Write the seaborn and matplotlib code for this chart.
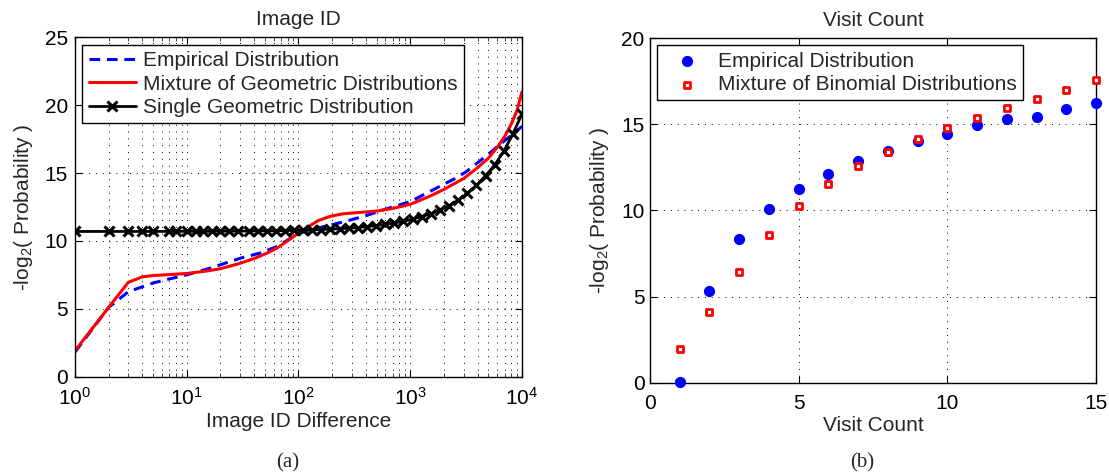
import matplotlib
matplotlib.use("Agg")
import matplotlib.pyplot as plt
import seaborn as sns
import numpy as np
import pandas as pd
from matplotlib.ticker import LogLocator, FixedLocator

# ---------------- data ----------------
# (a) Image ID difference
emp_x = [1, 2, 3, 4, 5, 7, 10, 16, 30, 45, 64, 100, 158, 251, 398, 631, 1000,
         1585, 2512, 3162, 3981, 5012, 6310, 7943, 10000]
emp_y = [1.8, 5.1, 6.25, 6.62, 6.9, 7.2, 7.5, 7.98, 8.72, 9.1, 9.58, 10.55, 11.0,
         11.4, 11.85, 12.4, 12.9, 13.75, 14.6, 15.1, 15.75, 16.4, 17.1, 17.75, 18.45]

mix_x = [1, 2, 3, 4, 5, 7, 10, 15, 20, 30, 40, 52, 65, 78, 100, 120, 150, 190,
         250, 350, 500, 700, 1000, 1500, 2000, 3000, 4000, 5000, 6000, 7000, 8000,
         9000, 10000]
mix_y = [1.9, 5.1, 6.95, 7.35, 7.45, 7.52, 7.6, 7.78, 7.95, 8.35, 8.7, 9.09, 9.5,
         9.95, 10.57, 11.0, 11.5, 11.8, 12.0, 12.1, 12.2, 12.4, 12.7, 13.3, 13.8,
         14.6, 15.4, 16.1, 16.9, 17.7, 18.6, 19.6, 21.0]

geo_x = [1, 2, 3, 4, 5, 7, 8, 10, 12, 14, 17, 20, 24, 29, 36, 43, 52, 63, 75, 91,
         110, 133, 160, 193, 233, 281, 339, 410, 494, 597, 720, 869, 1048, 1265,
         1526, 1842, 2223, 2683, 3237, 3907, 4715, 5690, 6866, 8286, 10000]
geo_y = [10.7, 10.7, 10.7, 10.7, 10.7, 10.71, 10.71, 10.71, 10.71, 10.71, 10.71,
         10.72, 10.72, 10.72, 10.73, 10.74, 10.74, 10.75, 10.76, 10.78, 10.79,
         10.81, 10.84, 10.87, 10.9, 10.94, 10.99, 11.05, 11.13, 11.22, 11.32,
         11.45, 11.6, 11.8, 12.0, 12.3, 12.6, 13.0, 13.5, 14.1, 14.8, 15.6, 16.6,
         17.9, 19.36]

# (b) Visit count
visits = [1, 2, 3, 4, 5, 6, 7, 8, 9, 10, 11, 12, 13, 14, 15]
emp_b = [0.05, 5.35, 8.35, 10.07, 11.23, 12.10, 12.87, 13.45, 14.03, 14.44, 14.94,
         15.31, 15.44, 15.87, 16.24]
mix_b = [1.96, 4.13, 6.45, 8.56, 10.24, 11.52, 12.56, 13.41, 14.17, 14.81, 15.39,
         15.95, 16.47, 17.01, 17.57]

left_labels = ["Empirical Distribution", "Mixture of Geometric Distributions",
               "Single Geometric Distribution"]
right_labels = ["Empirical Distribution", "Mixture of Binomial Distributions"]

# ---------------- style ----------------
sns.set_theme(style="white")
plt.rcParams["font.family"] = ["Liberation Sans", "DejaVu Sans"]
plt.rcParams["mathtext.default"] = "regular"
plt.rcParams["axes.edgecolor"] = "black"
plt.rcParams["axes.linewidth"] = 1.0
FS = 15

fig = plt.figure(figsize=(11.09, 4.75), dpi=100)
ax1 = fig.add_axes([0.0676, 0.2072, 0.4031, 0.7139])
ax2 = fig.add_axes([0.5861, 0.1937, 0.4022, 0.7263])

grid_kw = dict(color="black", linestyle=(0, (1, 6)), linewidth=0.7)

# ---------------- (a) ----------------
sns.lineplot(x=emp_x, y=emp_y, ax=ax1, color="#0000ff", linewidth=2.2,
             linestyle=(0, (3.5, 2.2)), errorbar=None, label=left_labels[0])
sns.lineplot(x=mix_x, y=mix_y, ax=ax1, color="#ff0000", linewidth=2.2,
             errorbar=None, label=left_labels[1])
sns.lineplot(x=geo_x, y=geo_y, ax=ax1, color="black", linewidth=2.0,
             marker="x", markersize=7, markeredgewidth=2.2,
             markeredgecolor="black", errorbar=None, label=left_labels[2])
ax1.set_xscale("log")
ax1.set_xlim(1, 10000)
ax1.set_ylim(0, 25)
ax1.set_yticks([0, 5, 10, 15, 20, 25])
ax1.xaxis.set_major_locator(LogLocator(base=10, numticks=10))
ax1.xaxis.set_minor_locator(LogLocator(base=10, subs=np.arange(2, 10), numticks=50))
ax1.grid(True, which="major", axis="both", **grid_kw)
ax1.grid(True, which="minor", axis="x", **grid_kw)
ax1.set_title("Image ID", fontsize=FS, pad=9)
ax1.set_xlabel("Image ID Difference", fontsize=FS, labelpad=2)
ax1.set_ylabel("-log$_2$( Probability )", fontsize=FS, labelpad=7)
ax1.tick_params(which="major", direction="in", length=5, width=0.8,
                top=True, right=True, bottom=True, left=True,
                labelsize=FS, colors="black")
ax1.tick_params(axis="x", which="major", pad=7.5)
ax1.tick_params(axis="y", which="major", pad=5)
ax1.tick_params(which="minor", direction="in", length=3, width=0.6,
                top=True, bottom=True)
leg1 = ax1.legend(loc="upper left", fontsize=FS, frameon=True, fancybox=False,
                  framealpha=1, edgecolor="black", borderaxespad=0.35,
                  borderpad=0.3, handlelength=2.3, handletextpad=0.3,
                  labelspacing=0.22, numpoints=1)
leg1.get_frame().set_linewidth(1.0)

# ---------------- (b) ----------------
sns.scatterplot(x=visits, y=emp_b, ax=ax2, marker="o", s=65, color="#0000ff",
                edgecolor="#0000ff", linewidth=0, clip_on=False, zorder=3,
                label=right_labels[0])
sns.scatterplot(x=visits, y=mix_b, ax=ax2, marker="s", s=22, facecolor="white",
                edgecolor="#ff0000", linewidth=2.0, clip_on=False, zorder=4,
                label=right_labels[1])
ax2.set_xlim(0, 15)
ax2.set_ylim(0, 20)
ax2.set_xticks([0, 5, 10, 15])
ax2.set_yticks([0, 5, 10, 15, 20])
ax2.grid(True, which="major", **grid_kw)
ax2.set_title("Visit Count", fontsize=FS, pad=9)
ax2.set_xlabel("Visit Count", fontsize=FS, labelpad=2)
ax2.set_ylabel("-log$_2$( Probability )", fontsize=FS, labelpad=7)
ax2.tick_params(which="major", direction="in", length=5, width=0.8,
                top=True, right=True, bottom=True, left=True,
                labelsize=FS, colors="black")
ax2.tick_params(axis="x", which="major", pad=8)
ax2.tick_params(axis="y", which="major", pad=4)
leg2 = ax2.legend(loc="upper left", fontsize=FS, frameon=True, fancybox=False,
                  framealpha=1, edgecolor="black", borderaxespad=0.35,
                  borderpad=0.3, handlelength=2.3, handletextpad=0.3,
                  labelspacing=0.22, scatterpoints=1)
leg2.get_frame().set_linewidth(1.0)

for ax in (ax1, ax2):
    for sp in ax.spines.values():
        sp.set_visible(True)
        sp.set_color("black")
        sp.set_linewidth(1.0)

# captions
fig.text(288 / 1109, 1 - 463 / 475, "(a)", ha="center", va="center",
         fontsize=15, family=["Liberation Serif", "DejaVu Serif"])
fig.text(862 / 1109, 1 - 463 / 475, "(b)", ha="center", va="center",
         fontsize=15, family=["Liberation Serif", "DejaVu Serif"])

fig.savefig("out.png", dpi=100, facecolor="white")
